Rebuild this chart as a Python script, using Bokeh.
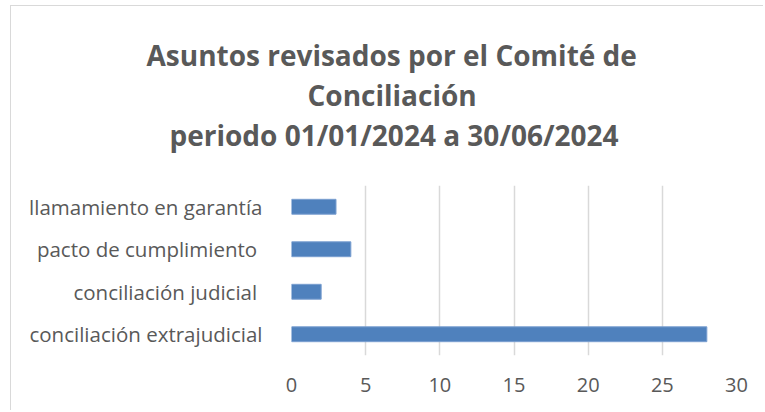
from bokeh.plotting import figure
from bokeh.models import Title, Range1d, FixedTicker
from bokeh.embed import file_html
from bokeh.resources import INLINE

categories = ["conciliación extrajudicial", "conciliación judicial ", "pacto de cumplimiento ", "llamamiento en garantía"]
values = [28, 2, 4, 3]
x_ticks = [0, 5, 10, 15, 20, 25, 30]
title_lines = ["Asuntos revisados por el Comité de", "Conciliación", "periodo 01/01/2024 a 30/06/2024"]
title_offsets = [-145, 16, -122]

FONT = "Open Sans"
GREY = "#595959"

p = figure(width=753, height=405, y_range=categories, x_range=Range1d(0, 30),
           output_backend="svg", toolbar_location=None, title=None,
           min_border_left=280, min_border_right=28, min_border_top=179, min_border_bottom=56)

p.hbar(y=categories, right=values, height=0.35, left=0, fill_color="#4F81BD", line_color="#7A9FD0", line_width=1)

# spacer between title block and plot frame
p.add_layout(Title(text=" ", text_font_size="14px", standoff=14), "above")
for line, off in reversed(list(zip(title_lines, title_offsets))):
    t = Title(text=line, align="left", offset=off, text_font=FONT, text_font_style="bold",
              text_font_size="28px", text_color=GREY, standoff=0)
    p.add_layout(t, "above")

p.xaxis.ticker = FixedTicker(ticks=x_ticks)
p.xaxis.axis_line_color = None
p.xaxis.major_tick_line_color = None
p.xaxis.minor_tick_line_color = None
p.xaxis.major_label_text_font = FONT
p.xaxis.major_label_text_font_size = "20px"
p.xaxis.major_label_text_color = GREY
p.xaxis.major_label_standoff = 16

p.yaxis.axis_line_color = None
p.yaxis.major_tick_line_color = None
p.yaxis.minor_tick_line_color = None
p.yaxis.major_label_text_font = FONT
p.yaxis.major_label_text_font_size = "20.5px"
p.yaxis.major_label_text_color = GREY
p.yaxis.major_label_standoff = 23

p.ygrid.grid_line_color = None
p.xgrid.grid_line_color = "#D9D9D9"
p.xgrid.grid_line_width = 1.5
p.outline_line_color = None
p.styles = {"border-top": "1px solid #D9D9D9", "border-left": "1px solid #D9D9D9",
            "margin-left": "10px", "margin-top": "5px"}

open("out.html", "w").write(file_html(p, INLINE))
